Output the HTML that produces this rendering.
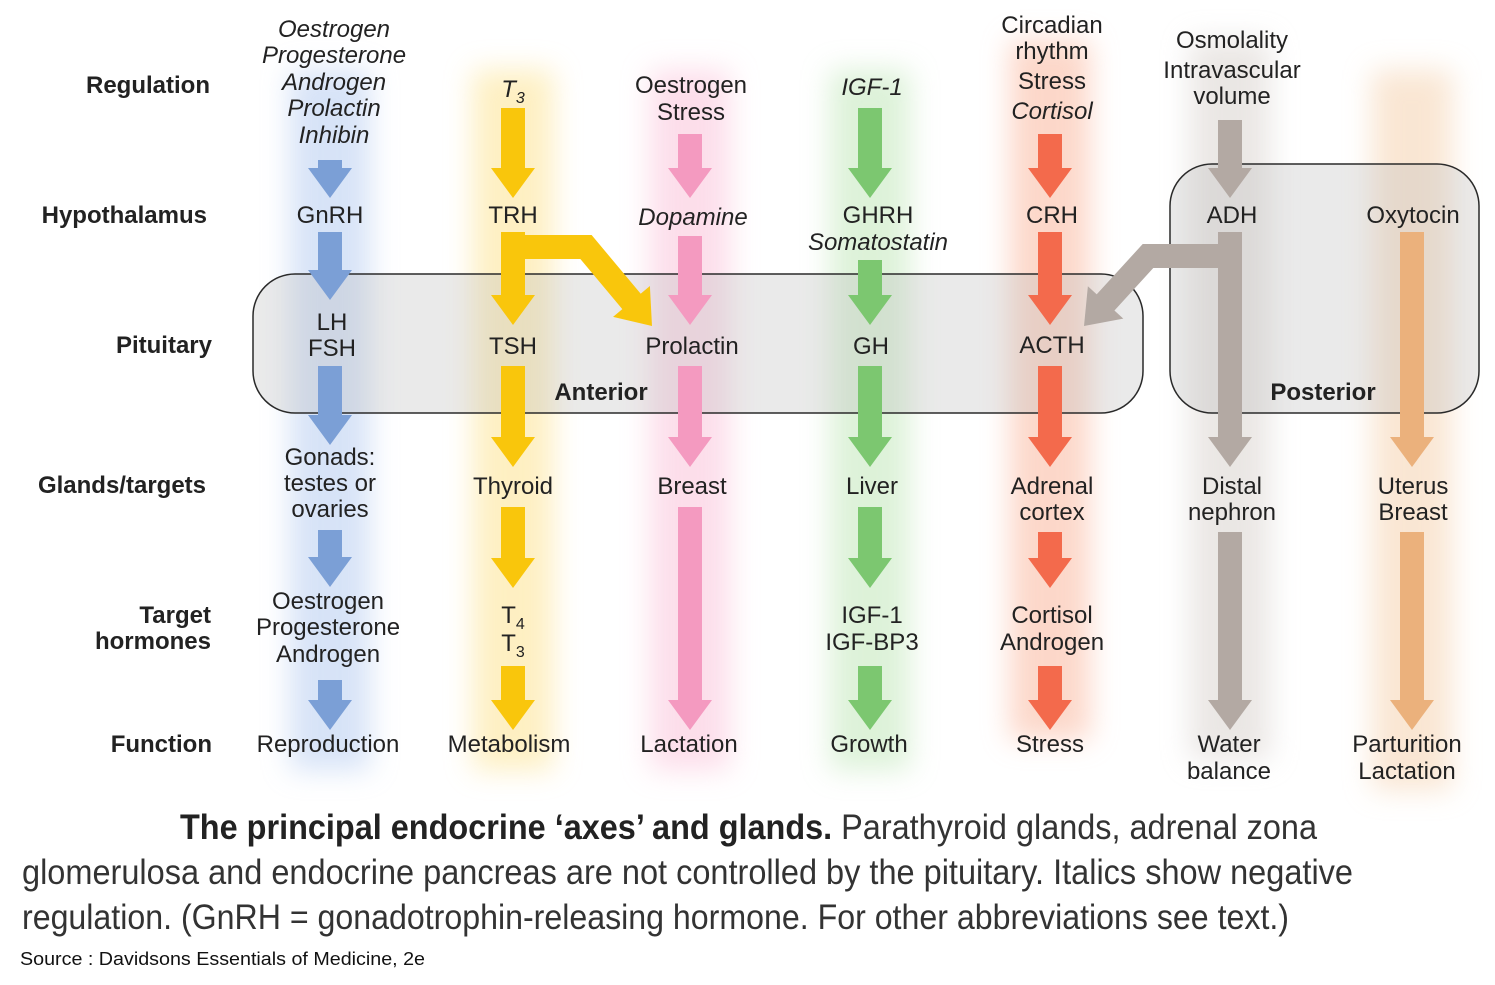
<!DOCTYPE html>
<html><head><meta charset="utf-8">
<style>
html,body{margin:0;padding:0;background:#fff;}
svg{display:block;}
text{font-family:"Liberation Sans",sans-serif;}
.lbl{font-weight:bold;font-size:24px;fill:#222;text-anchor:end;}
.t{font-size:24px;fill:#222;text-anchor:middle;}
.i{font-style:italic;}
.cap{font-family:"Liberation Sans Narrow","Liberation Sans",sans-serif;font-size:35px;fill:#333;}
</style></head><body>
<svg id="c" width="1495" height="985" viewBox="0 0 1495 985">
<defs>
<filter id="blur" x="-50%" y="-10%" width="200%" height="120%"><feGaussianBlur stdDeviation="14"/></filter>
</defs>
<g id="glows" opacity="0.6"></g>
<g id="boxes"></g>
<g id="arrows"></g>
<g id="texts">
<text class="lbl" x="210" y="93">Regulation</text>
<text class="lbl" x="207" y="223">Hypothalamus</text>
<text class="lbl" x="212" y="353">Pituitary</text>
<text class="lbl" x="206" y="493">Glands/targets</text>
<text class="lbl" x="211" y="623">Target</text>
<text class="lbl" x="211" y="649">hormones</text>
<text class="lbl" x="212" y="752">Function</text>

<g>
<text class="t i" x="334" y="37">Oestrogen</text><text class="t i" x="334" y="63">Progesterone</text>
<text class="t i" x="334" y="90">Androgen</text><text class="t i" x="334" y="116">Prolactin</text><text class="t i" x="334" y="143">Inhibin</text></g>
<text class="t" x="330" y="223">GnRH</text>
<text class="t" x="332" y="330">LH</text><text class="t" x="332" y="356">FSH</text>
<text class="t" x="330" y="465">Gonads:</text><text class="t" x="330" y="491">testes or</text><text class="t" x="330" y="517">ovaries</text>
<text class="t" x="328" y="609">Oestrogen</text><text class="t" x="328" y="635">Progesterone</text><text class="t" x="328" y="662">Androgen</text>
<text class="t" x="328" y="752">Reproduction</text>

<text class="t i" x="513" y="97">T<tspan font-size="16" dy="6">3</tspan></text>
<text class="t" x="513" y="223">TRH</text>
<text class="t" x="513" y="354">TSH</text>
<text class="t" x="513" y="494">Thyroid</text>
<text class="t" x="513" y="623">T<tspan font-size="16" dy="6">4</tspan></text>
<text class="t" x="513" y="651">T<tspan font-size="16" dy="6">3</tspan></text>
<text class="t" x="509" y="752">Metabolism</text>

<text class="t" x="691" y="93">Oestrogen</text><text class="t" x="691" y="120">Stress</text>
<text class="t i" x="693" y="225">Dopamine</text>
<text class="t" x="692" y="354">Prolactin</text>
<text class="t" x="692" y="494">Breast</text>
<text class="t" x="689" y="752">Lactation</text>

<text class="t i" x="872" y="95">IGF-1</text>
<text class="t" x="878" y="223">GHRH</text><text class="t i" x="878" y="250">Somatostatin</text>
<text class="t" x="871" y="354">GH</text>
<text class="t" x="872" y="494">Liver</text>
<text class="t" x="872" y="623">IGF-1</text><text class="t" x="872" y="650">IGF-BP3</text>
<text class="t" x="869" y="752">Growth</text>

<text class="t" x="1052" y="33">Circadian</text><text class="t" x="1052" y="59">rhythm</text>
<text class="t" x="1052" y="89">Stress</text><text class="t i" x="1052" y="119">Cortisol</text>
<text class="t" x="1052" y="223">CRH</text>
<text class="t" x="1052" y="353">ACTH</text>
<text class="t" x="1052" y="494">Adrenal</text><text class="t" x="1052" y="520">cortex</text>
<text class="t" x="1052" y="623">Cortisol</text><text class="t" x="1052" y="650">Androgen</text>
<text class="t" x="1050" y="752">Stress</text>

<text class="t" x="1232" y="48">Osmolality</text><text class="t" x="1232" y="78">Intravascular</text><text class="t" x="1232" y="104">volume</text>
<text class="t" x="1232" y="223">ADH</text>
<text class="t" x="1232" y="494">Distal</text><text class="t" x="1232" y="520">nephron</text>
<text class="t" x="1229" y="752">Water</text><text class="t" x="1229" y="779">balance</text>

<text class="t" x="1413" y="223">Oxytocin</text>
<text class="t" x="1413" y="494">Uterus</text><text class="t" x="1413" y="520">Breast</text>
<text class="t" x="1407" y="752">Parturition</text><text class="t" x="1407" y="779">Lactation</text>

<text x="601" y="400" font-size="24" font-weight="bold" text-anchor="middle" fill="#222">Anterior</text>
<text x="1323" y="400" font-size="24" font-weight="bold" text-anchor="middle" fill="#222">Posterior</text>
</g>
<g>
<text class="cap" x="180" y="839" textLength="1137" lengthAdjust="spacingAndGlyphs"><tspan font-weight="bold" fill="#222">The principal endocrine ‘axes’ and glands.</tspan> Parathyroid glands, adrenal zona</text>
<text class="cap" x="22" y="884" textLength="1331" lengthAdjust="spacingAndGlyphs">glomerulosa and endocrine pancreas are not controlled by the pituitary. Italics show negative</text>
<text class="cap" x="22" y="929" textLength="1267" lengthAdjust="spacingAndGlyphs">regulation. (GnRH = gonadotrophin-releasing hormone. For other abbreviations see text.)</text>
</g>
<text x="20" y="965" font-size="18" fill="#111" textLength="405" lengthAdjust="spacingAndGlyphs">Source : Davidsons Essentials of Medicine, 2e</text>
</svg>
<script>
const NS="http://www.w3.org/2000/svg";
const colNames=["gonadal","thyroid","prolactin","growth","adrenal","adh","oxytocin"];
const colX=[330,513,690,870,1050,1230,1412];
const colColor=["#7b9fd6","#f9c60c","#f49ac0","#7cc770","#f36a4c","#b3a9a3","#ebb17c"];
const glowColor=["#bcd0f2","#fde59a","#fbc8dd","#c6e9bf","#fbbda6","#ddd7d3","#f6d6b6"];
const segs=[
 [[160,198],[232,300],[366,445],[530,587],[680,730]],
 [[108,198],[232,325],[366,467],[507,588],[666,730]],
 [[134,198],[236,325],[366,467],[507,730]],
 [[108,198],[260,325],[366,467],[507,588],[666,730]],
 [[134,198],[232,325],[366,467],[532,588],[666,730]],
 [[120,198],[232,467],[532,730]],
 [[232,467],[532,730]]
];
const glows=document.getElementById('glows');
colX.forEach((x,i)=>{
 const r=document.createElementNS(NS,'rect');
 r.setAttribute('x',x-40);r.setAttribute('y',i===5||i===4?40:70);
 r.setAttribute('width',80);r.setAttribute('height',i===5||i===6?720:700);
 r.setAttribute('fill',glowColor[i]);r.setAttribute('filter','url(#blur)');
 
 
 glows.appendChild(r);
});
const boxes=document.getElementById('boxes');
function box(x,y,w,h,name){
 const r=document.createElementNS(NS,'rect');
 r.setAttribute('x',x);r.setAttribute('y',y);r.setAttribute('width',w);r.setAttribute('height',h);
 r.setAttribute('rx',42);r.setAttribute('fill','rgba(185,185,185,0.3)');
 r.setAttribute('stroke','#2a2a2a');r.setAttribute('stroke-width','1.5');
 
 
 boxes.appendChild(r);
}
box(253,274,890,139,'anterior-pituitary-box');
box(1170,164,309,249,'posterior-pituitary-box');
const arrows=document.getElementById('arrows');
function down(x,y1,y2,c,name){
 const sw=12,hw=22,hh=30;
 const p=document.createElementNS(NS,'polygon');
 p.setAttribute('points',`${x-sw},${y1} ${x+sw},${y1} ${x+sw},${y2-hh} ${x+hw},${y2-hh} ${x},${y2} ${x-hw},${y2-hh} ${x-sw},${y2-hh}`);
 p.setAttribute('fill',c);
 
 
 arrows.appendChild(p);
}
segs.forEach((s,i)=>s.forEach((g,j)=>down(colX[i],g[0],g[1],colColor[i],'arrow-'+colNames[i]+'-'+(j+1))));
function bent(pts,tip,c,name){
 const g=document.createElementNS(NS,'g');
 
 
 const last=pts[pts.length-1];
 const dx=tip[0]-last[0],dy=tip[1]-last[1],L=Math.hypot(dx,dy),ux=dx/L,uy=dy/L;
 const hh=32,hw=24;
 const bx=tip[0]-ux*hh,by=tip[1]-uy*hh;
 const pl=document.createElementNS(NS,'polyline');
 pl.setAttribute('points',pts.map(p=>p.join(',')).join(' ')+' '+(bx+ux*2)+','+(by+uy*2));
 pl.setAttribute('fill','none');pl.setAttribute('stroke',c);pl.setAttribute('stroke-width','24');
 pl.setAttribute('stroke-linejoin','miter');
 g.appendChild(pl);
 const h=document.createElementNS(NS,'polygon');
 h.setAttribute('points',`${tip[0]},${tip[1]} ${bx-uy*hw},${by+ux*hw} ${bx+uy*hw},${by-ux*hw}`);
 h.setAttribute('fill',c);
 g.appendChild(h);
 arrows.appendChild(g);
}
bent([[513,247],[586,247]],[652,326],colColor[1],'arrow-trh-to-prolactin');
bent([[1230,256],[1148,256]],[1084,326],colColor[5],'arrow-adh-to-acth');
</script>
</body></html>
